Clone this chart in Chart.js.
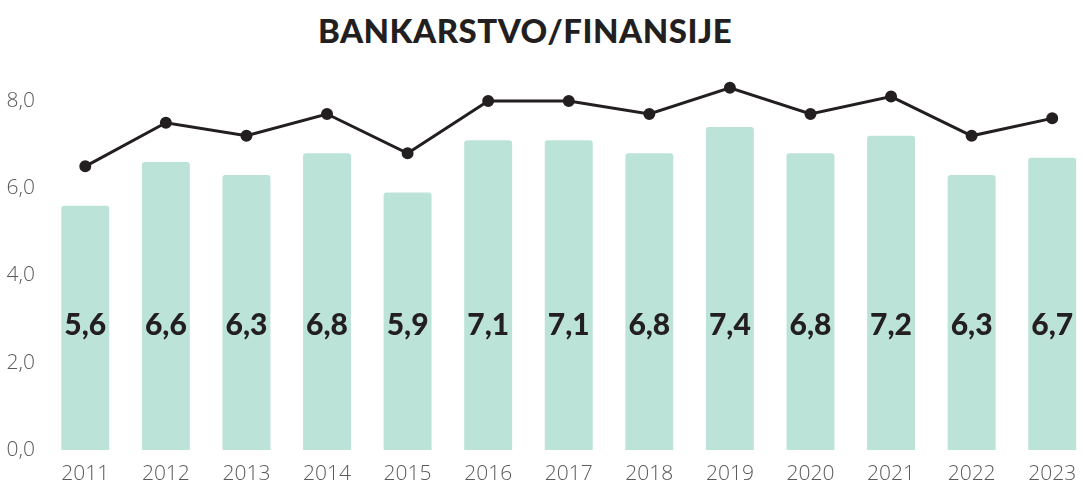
<!DOCTYPE html>
<html>
<head>
<meta charset="utf-8">
<script src="https://cdn.jsdelivr.net/npm/chart.js@4.4.0/dist/chart.umd.min.js"></script>
<style>
  html, body { margin: 0; padding: 0; background: #fff; overflow: hidden; width: 1083px; height: 483px; }
  #naslov {
    position: absolute; left: 0; top: 10px; width: 1050px; text-align: center;
    font-family: 'Lato', sans-serif; font-weight: 900; font-size: 33px; color: #231f20;
    letter-spacing: 0.5px;
  }
  #okvir { position: absolute; left: 0; top: 0; width: 1100px; height: 483px; }
</style>
</head>
<body>
<div id="naslov">BANKARSTVO/FINANSIJE</div>
<div id="okvir"><canvas id="grafik"></canvas></div>
<script>
// Podaci sa grafika
const godine = ['2011', '2012', '2013', '2014', '2015', '2016', '2017', '2018', '2019', '2020', '2021', '2022', '2023'];
const stubovi = [5.6, 6.6, 6.3, 6.8, 5.9, 7.1, 7.1, 6.8, 7.4, 6.8, 7.2, 6.3, 6.7];
const linija = [6.5, 7.5, 7.2, 7.7, 6.8, 8.0, 8.0, 7.7, 8.3, 7.7, 8.1, 7.2, 7.6];
const oznakeY = [0, 2, 4, 6, 8];

const boja = '#231f20';

// Oznake vrijednosti u sredini stubova
const oznakeStubova = {
  id: 'oznakeStubova',
  afterDatasetsDraw(chart) {
    const ctx = chart.ctx;
    const meta = chart.getDatasetMeta(1);
    const y = chart.scales.y.getPixelForValue(2.85);
    ctx.save();
    ctx.font = '900 30px Lato';
    ctx.fillStyle = boja;
    ctx.textAlign = 'center';
    ctx.textBaseline = 'middle';
    meta.data.forEach((bar, i) => {
      ctx.fillText(stubovi[i].toFixed(1).replace('.', ','), bar.x, y);
    });
    ctx.restore();
  }
};

new Chart(document.getElementById('grafik'), {
  data: {
    labels: godine,
    datasets: [
      {
        type: 'line',
        data: linija,
        borderColor: boja,
        backgroundColor: boja,
        borderWidth: 3,
        pointRadius: 4.5,
        pointHoverRadius: 4.5,
        tension: 0,
        order: 0
      },
      {
        type: 'bar',
        data: stubovi,
        backgroundColor: '#bce3d7',
        borderRadius: { topLeft: 3, topRight: 3 },
        borderSkipped: 'bottom',
        categoryPercentage: 1,
        barPercentage: 0.595,
        order: 1
      }
    ]
  },
  options: {
    responsive: true,
    maintainAspectRatio: false,
    animation: false,
    layout: { padding: { top: 66, right: 5, left: 0, bottom: 0 } },
    plugins: { legend: { display: false }, tooltip: { enabled: false } },
    scales: {
      x: {
        grid: { display: false },
        border: { display: false },
        ticks: { color: '#5a5a5a', font: { family: 'Open Sans', weight: 300, size: 21 }, padding: 3 },
        afterFit: (s) => { s.height = 33; }
      },
      y: {
        min: 0,
        max: 8.8,
        grid: { display: false },
        border: { display: false },
        afterBuildTicks: (s) => { s.ticks = oznakeY.map(v => ({ value: v })); },
        ticks: {
          color: '#5a5a5a',
          font: { family: 'Open Sans', weight: 300, size: 21 },
          padding: 2,
          callback: (v) => v.toFixed(1).replace('.', ',')
        },
        afterFit: (s) => { s.width = 45; }
      }
    }
  },
  plugins: [oznakeStubova]
});
</script>
</body>
</html>
